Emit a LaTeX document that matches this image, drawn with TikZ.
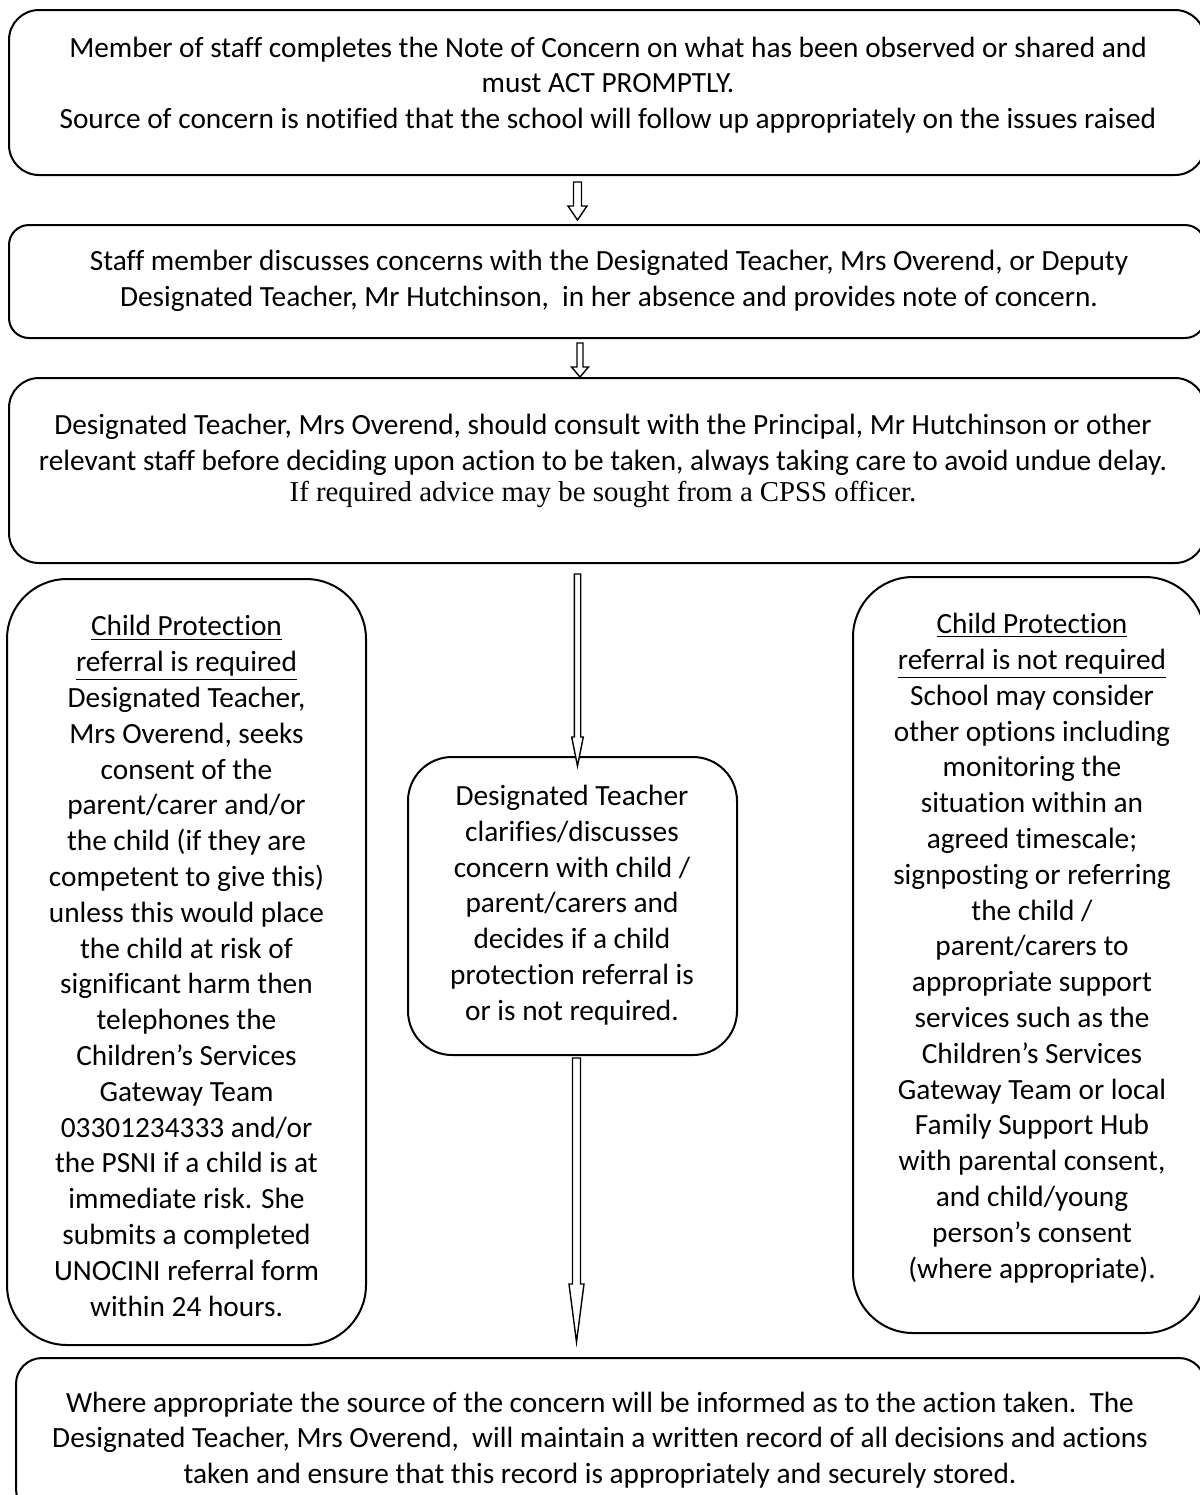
\documentclass[tikz,border=0pt]{standalone}
\usepackage{fontspec}
\setmainfont{Carlito}[Ligatures={NoCommon}]
\newfontfamily\serifpart{Liberation Serif}[Ligatures={NoCommon}]
\usetikzlibrary{calc}
\tikzset{
  flowbox/.style={draw=black, line width=1pt, inner sep=0pt},
  flowtext/.style={align=center, inner sep=0pt, font=\fontsize{14.66}{17.9}\selectfont},
  hollow/.style={draw=black, line width=0.7pt, fill=white, line join=miter},
}
% #1 start, #2 tip, #3 half shaft width, #4 half head width, #5 head length
\newcommand\hollowarrow[5]{%
  \path[hollow] let \p1=(#1), \p2=(#2) in
    (\x1-#3,\y1) -- (\x1+#3,\y1) -- (\x1+#3,\y2+#5) -- (\x1+#4,\y2+#5)
    -- (\x1,\y2) -- (\x1-#4,\y2+#5) -- (\x1-#3,\y2+#5) -- cycle;
}
\begin{document}
\begin{tikzpicture}[x=0.5pt,y=-0.5pt]
\useasboundingbox (0,0) rectangle (1200,1495);

% boxes
\node[flowbox, rounded corners=15pt, minimum width=598pt, minimum height=82.5pt] (b1) at (607,92.5) {};
\node[flowbox, rounded corners=10pt, minimum width=598pt, minimum height=56.5pt] (b2) at (607,281.5) {};
\node[flowbox, rounded corners=15pt, minimum width=598pt, minimum height=92.5pt] (b3) at (607,470.5) {};
\node[flowbox, rounded corners=30pt, minimum width=179.5pt, minimum height=383pt] (bl) at (186.5,962) {};
\node[flowbox, rounded corners=22pt, minimum width=164.5pt, minimum height=149pt] (bm) at (572.5,906) {};
\node[flowbox, rounded corners=30pt, minimum width=176pt, minimum height=378pt] (br) at (1029,955) {};
\node[flowbox, rounded corners=13pt, minimum width=594.5pt, minimum height=78.5pt] (bb) at (610.5,1436.5) {};

% texts
\node[flowtext] (t1) at (608,85) {Member of staff completes the Note of Concern on what has been observed or shared and\\
must ACT PROMPTLY.\\
Source of concern is notified that the school will follow up appropriately on the issues raised};

\node[flowtext] (t2) at (609,281) {Staff member discusses concerns with the Designated Teacher, Mrs Overend, or Deputy\\
Designated Teacher, Mr Hutchinson,\ \ in her absence and provides note of concern.};

\node[flowtext] (t3) at (603,461) {Designated Teacher, Mrs Overend, should consult with the Principal, Mr Hutchinson or other\\
relevant staff before deciding upon action to be taken, always taking care to avoid undue delay.\\[-2pt]
{\serifpart\fontsize{14.4}{16}\selectfont If required advice may be sought from a CPSS officer.}};

\node[flowtext] (tl) at (186.5,966) {\underline{Child Protection}\\
\underline{referral is required}\\
Designated Teacher,\\
Mrs Overend, seeks\\
consent of the\\
parent/carer and/or\\
the child (if they are\\
competent to give this)\\
unless this would place\\
the child at risk of\\
significant harm then\\
telephones the\\
Children’s Services\\
Gateway Team\\
03301234333 and/or\\
the PSNI if a child is at\\
immediate risk. She\\
submits a completed\\
UNOCINI referral form\\
within 24 hours.};

\node[flowtext] (tm) at (572,905) {Designated Teacher\\
clarifies/discusses\\
concern with child /\\
parent/carers and\\
decides if a child\\
protection referral is\\
or is not required.};

\node[flowtext] (tr) at (1032,948) {\underline{Child Protection}\\
\underline{referral is not required}\\
School may consider\\
other options including\\
monitoring the\\
situation within an\\
agreed timescale;\\
signposting or referring\\
the child /\\
parent/carers to\\
appropriate support\\
services such as the\\
Children’s Services\\
Gateway Team or local\\
Family Support Hub\\
with parental consent,\\
and child/young\\
person’s consent\\
(where appropriate).};

\node[flowtext] (tb) at (600,1440) {Where appropriate the source of the concern will be informed as to the action taken.\ \ The\\
Designated Teacher, Mrs Overend,\ \ will maintain a written record of all decisions and actions\\
taken and ensure that this record is appropriately and securely stored.};

% arrows
\coordinate (a1s) at ($(b1.south)+(-29.5,6)$);
\coordinate (a1e) at ($(b2.north)+(-29.5,-4)$);
\coordinate (a2s) at ($(b2.south)+(-27,4)$);
\coordinate (a2e) at ($(b3.north)+(-27,0)$);
\coordinate (a3s) at ($(b3.south)+(-29.5,10)$);
\coordinate (a3e) at ($(bm.north)+(5,10)$);
\coordinate (a4s) at ($(bm.south)+(4,2)$);
\coordinate (a4e) at ($(bb.north)+(-34,-15)$);
\hollowarrow{a1s}{a1e}{2pt}{4.75pt}{7pt}
\hollowarrow{a2s}{a2e}{1.5pt}{4.25pt}{5pt}
\hollowarrow{a3s}{a3e}{1.6pt}{2.9pt}{14.5pt}
\hollowarrow{a4s}{a4e}{2pt}{3.75pt}{29pt}
\end{tikzpicture}
\end{document}
